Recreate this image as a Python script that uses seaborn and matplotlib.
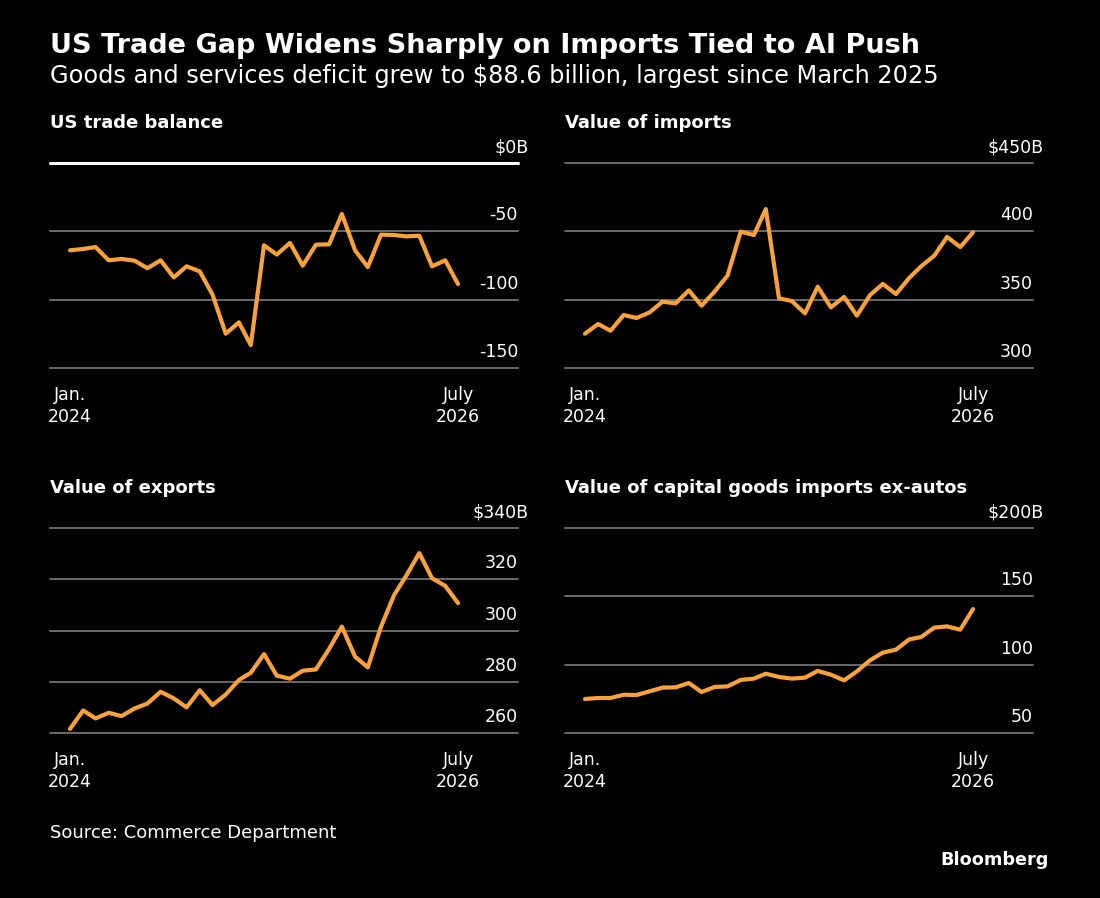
import numpy as np
import pandas as pd
import matplotlib
matplotlib.use("Agg")
import matplotlib.pyplot as plt
import seaborn as sns

# Monthly data, Jan 2024 - July 2026 (billions of dollars)
months = pd.date_range("2024-01-01", "2026-07-01", freq="MS")

trade_balance = [-63.9, -62.9, -61.5, -71.2, -70.2, -71.5, -77.0, -71.2, -83.7, -75.6,
                 -79.3, -96.3, -124.9, -116.6, -133.2, -60.2, -67.0, -58.5, -75.1, -59.8,
                 -59.5, -37.3, -63.9, -76.1, -52.4, -52.7, -53.7, -53.2, -75.6, -71.2,
                 -88.6]
imports = [325.1, 332.2, 327.3, 338.8, 336.6, 340.7, 348.5, 347.3, 356.8, 345.6,
           356.1, 367.6, 399.8, 397.3, 416.3, 351.0, 349.0, 340.0, 359.5, 344.4,
           352.0, 338.3, 353.4, 361.5, 354.1, 365.9, 374.4, 382.2, 395.9, 388.5,
           399.3]
exports = [261.6, 268.8, 265.7, 267.9, 266.6, 269.6, 271.5, 276.1, 273.5, 270.0,
           276.7, 270.9, 275.0, 280.7, 283.5, 290.8, 282.4, 281.2, 284.3, 284.8,
           292.8, 301.5, 289.8, 285.6, 301.5, 313.9, 321.3, 330.2, 320.4, 317.4,
           310.7]
capital_goods = [74.9, 75.6, 75.6, 78.0, 77.8, 80.5, 83.2, 83.4, 86.6, 80.0,
                 83.7, 84.1, 88.8, 89.8, 93.4, 91.0, 89.8, 90.5, 95.4, 92.7,
                 88.5, 95.1, 103.2, 108.8, 111.0, 118.5, 120.2, 127.1, 128.0, 125.6,
                 140.7]

titles = ["US trade balance", "Value of imports", "Value of exports",
          "Value of capital goods imports ex-autos"]
yticks = [[0, -50, -100, -150], [450, 400, 350, 300],
          [340, 320, 300, 280, 260], [200, 150, 100, 50]]
xlabels = ["Jan.\n2024", "July\n2026"]

ORANGE = "#F9A23C"
GRID = "#6a6a6a"
W, H = 1100, 898

sns.set_style("dark")
plt.rcParams["font.family"] = ["DejaVu Sans"]

fig = plt.figure(figsize=(W / 100, H / 100), dpi=100, facecolor="black")

# panel positions in pixels: left, top
spots = [(50, 163), (565, 163), (50, 528), (565, 528)]
series = [trade_balance, imports, exports, capital_goods]

xmin = months[0] - pd.Timedelta(days=47)
xmax = months[-1] + pd.Timedelta(days=141)

for (left, top), title, vals, ticks in zip(spots, titles, series, yticks):
    ax = fig.add_axes([left / W, 1 - (top + 205) / H, 468 / W, 205 / H])
    ax.set_facecolor("black")
    for s in ax.spines.values():
        s.set_visible(False)
    ax.grid(False)

    for t in ticks:
        if t == 0:
            ax.axhline(t, color="white", lw=2.2, zorder=1, clip_on=False)
        else:
            ax.axhline(t, color=GRID, lw=1.4, zorder=1, clip_on=False)

    sns.lineplot(x=months, y=vals, ax=ax, color=ORANGE, lw=3, zorder=3)
    for ln in ax.lines:
        ln.set_clip_on(False)

    ax.set_ylim(min(ticks), max(ticks))
    ax.set_xlim(xmin, xmax)
    ax.set_yticks([])
    ax.set_ylabel("")
    ax.set_xlabel("")

    for i, t in enumerate(ticks):
        if i == 0:
            lab = f"${t}B"
            dx = 7.5
        else:
            lab = f"{t}"
            dx = 0
        ax.annotate(lab, xy=(1, t), xycoords=("axes fraction", "data"),
                    xytext=(dx, 5), textcoords="offset points",
                    ha="right", va="bottom", color="white", fontsize=12.5)

    ax.set_xticks([months[0], months[-1]])
    ax.set_xticklabels(xlabels, linespacing=1.25)
    ax.tick_params(axis="x", length=7, width=1.3, color="#cfcfcf",
                   labelcolor="white", labelsize=12.5, pad=6, direction="out")

    fig.text(left / W, 1 - (top - 35) / H, title, color="white",
             fontsize=13, fontweight="semibold", ha="left", va="baseline")

fig.text(50 / W, 1 - 53 / H, "US Trade Gap Widens Sharply on Imports Tied to AI Push",
         color="white", fontsize=19.5, fontweight="bold", ha="left", va="baseline")
fig.text(50 / W, 1 - 83 / H,
         "Goods and services deficit grew to $88.6 billion, largest since March 2025",
         color="white", fontsize=17.3, ha="left", va="baseline")
fig.text(50 / W, 1 - 838 / H, "Source: Commerce Department", color="white",
         fontsize=13, ha="left", va="baseline")
fig.text(1049 / W, 1 - 865 / H, "Bloomberg", color="white", fontsize=12.7,
         fontweight="bold", ha="right", va="baseline")

fig.savefig("out.png", dpi=100, facecolor="black")
